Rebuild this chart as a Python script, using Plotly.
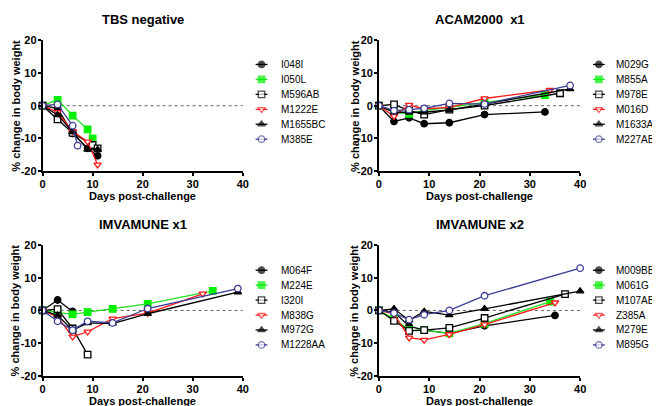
import plotly.graph_objects as go

# ---------------- data ----------------
panel_titles = ["TBS negative", "ACAM2000  x1", "IMVAMUNE x1", "IMVAMUNE x2"]
x_ticks = [0, 10, 20, 30, 40]
y_ticks = [-20, -10, 0, 10, 20]
y_tick_labels = ["-20", "-10", "0", "10", "20"]

# Panel 1: TBS negative
p1_names = ["I048I", "I050L", "M596AB", "M1222E", "M1655BC", "M385E"]
p1_days = [
    [0, 3, 6, 9, 11],
    [0, 3, 6, 9, 10],
    [0, 3, 6, 10, 11],
    [0, 3, 6, 9, 11],
    [0, 3, 6, 9, 11],
    [0, 3, 6, 7],
]
p1_vals = [
    [0, -0.8, -8.5, -13.0, -15.3],
    [0, 1.8, -3.0, -7.2, -10.0],
    [0, -4.2, -8.3, -12.0, -13.0],
    [0, -2.0, -7.8, -11.0, -18.0],
    [0, -2.8, -8.0, -13.4, -13.4],
    [0, 0.4, -6.1, -12.2],
]

# Panel 2: ACAM2000 x1
p2_names = ["M029G", "M855A", "M978E", "M016D", "M1633AB", "M227AB"]
p2_days = [
    [0, 3, 6, 9, 14, 21, 33],
    [0, 3, 6, 9, 14, 21, 33],
    [0, 3, 6, 9, 14, 21, 36],
    [0, 3, 6, 9, 14, 21, 34],
    [0, 3, 6, 9, 14, 21, 38],
    [0, 3, 6, 9, 14, 21, 38],
]
p2_vals = [
    [0, -4.8, -3.7, -5.5, -5.2, -2.7, -1.9],
    [0, -2.0, -2.5, -1.5, -0.5, 1.0, 3.2],
    [0, 0.4, -1.5, -2.7, -1.2, 0.0, 3.8],
    [0, -3.2, 0.2, -1.0, -0.5, 2.2, 4.8],
    [0, -2.0, -2.0, -2.0, -1.3, 0.5, 5.1],
    [0, -1.5, -1.2, -0.8, 0.7, 0.5, 6.2],
]

# Panel 3: IMVAMUNE x1
p3_names = ["M064F", "M224E", "I320I", "M838G", "M972G", "M1228AA"]
p3_days = [
    [0, 3, 6],
    [0, 3, 6, 9, 14, 21, 34],
    [0, 3, 6, 9],
    [0, 3, 6, 9, 14, 21, 32],
    [0, 3, 6, 9, 14, 21, 39],
    [0, 3, 6, 9, 14, 21, 39],
]
p3_vals = [
    [0, 3.2, -0.3],
    [0, -0.5, -1.2, -0.5, 0.5, 2.0, 6.0],
    [0, 0.4, -5.5, -13.5],
    [0, -2.0, -8.0, -6.5, -2.5, -0.8, 5.1],
    [0, -1.5, -6.0, -3.8, -4.0, -1.0, 5.6],
    [0, -3.3, -6.0, -3.3, -3.8, 0.6, 6.7],
]

# Panel 4: IMVAMUNE x2
p4_names = ["M009BB", "M061G", "M107AB", "Z385A", "M279E", "M895G"]
p4_days = [
    [0, 3, 6, 9, 14, 21, 35],
    [0, 3, 6, 9, 14, 21, 34],
    [0, 3, 6, 9, 14, 21, 37],
    [0, 3, 6, 9, 14, 21, 35],
    [0, 3, 6, 9, 14, 21, 40],
    [0, 3, 6, 9, 14, 21, 40],
]
p4_vals = [
    [0, -0.5, -4.8, -6.0, -7.0, -4.7, -1.5],
    [0, -2.5, -6.0, -6.0, -7.0, -4.0, 2.7],
    [0, -3.2, -6.2, -6.0, -5.3, -2.3, 5.0],
    [0, -1.0, -8.3, -9.0, -7.3, -4.3, 2.4],
    [0, 0.5, -3.0, -0.3, -1.4, 0.5, 5.9],
    [0, -0.8, -2.8, -1.3, 0.0, 4.5, 12.9],
]

# ---------------- styles ----------------
BLACK = "#000000"
GREEN = "#22e022"
RED = "#ff1a1a"
BLUE = "#3b3b96"
styles = [
    dict(line=BLACK, symbol="circle", fill=BLACK, mline=BLACK),
    dict(line=GREEN, symbol="square", fill="#00f000", mline="#00f000"),
    dict(line=BLACK, symbol="square", fill="white", mline=BLACK),
    dict(line=RED, symbol="triangle-down", fill="white", mline=RED),
    dict(line=BLACK, symbol="triangle-up", fill=BLACK, mline=BLACK),
    dict(line=BLUE, symbol="circle", fill="white", mline=BLUE),
]

W, H = 660, 406
FONT = "Liberation Sans, Arial, sans-serif"

# panel pixel boxes: (left, right, top, bottom)
boxes = [(32, 235, 27, 162), (373, 577, 27, 162), (32, 235, 238, 373), (373, 577, 238, 373)]
# legend: (sample line left, text left, first row y)
legend_geo = [(248, 272, 52), (590, 611, 52), (248, 272, 264), (590, 611, 264)]
ROW = 15.4
ytitle_x = [5, 348, 5, 348]

panels = [
    (p1_names, p1_days, p1_vals),
    (p2_names, p2_days, p2_vals),
    (p3_names, p3_days, p3_vals),
    (p4_names, p4_days, p4_vals),
]

fig = go.Figure()
annotations = []
shapes = []
layout = {}

axis_common = dict(
    showgrid=False, zeroline=False, showline=True, linecolor="black", linewidth=1.5,
    ticks="outside", ticklen=3, tickwidth=1.5, tickcolor="black", ticklabelstandoff=-1,
    tickfont=dict(family=FONT, size=11, color="black", weight="bold"),
)
bold = dict(family=FONT, size=11, color="black", weight="bold")

for i, (names, days, vals) in enumerate(panels):
    n = i + 1
    xa = "x" if n == 1 else f"x{n}"
    ya = "y" if n == 1 else f"y{n}"
    l, r, t, b = boxes[i]
    layout[f"xaxis{'' if n == 1 else n}"] = dict(
        domain=[l / W, r / W], anchor=ya, range=[0, 40], tickvals=x_ticks, **axis_common)
    layout[f"yaxis{'' if n == 1 else n}"] = dict(
        domain=[1 - b / H, 1 - t / H], anchor=xa, range=[-20, 20], tickvals=y_ticks,
        ticktext=y_tick_labels, **axis_common)
    # y title
    annotations.append(dict(
        text="% change in body weight", xref="paper", yref="paper",
        x=ytitle_x[i] / W, y=1 - (t + b) / 2 / H, textangle=-90, showarrow=False,
        xanchor="center", yanchor="middle", font=bold))
    # x title
    annotations.append(dict(
        text="Days post-challenge", xref="paper", yref="paper",
        x=(l + r) / 2 / W, y=1 - (b + 26) / H, showarrow=False,
        xanchor="center", yanchor="middle", font=bold))
    # panel title
    annotations.append(dict(
        text=panel_titles[i], xref="paper", yref="paper",
        x=(l + r) / 2 / W, y=1 - (t - 21) / H, showarrow=False,
        xanchor="center", yanchor="middle",
        font=dict(family=FONT, size=13, color="black", weight="bold")))
    # dotted zero line
    shapes.append(dict(type="line", xref=xa, yref=ya, x0=0, x1=40, y0=0, y1=0,
                       line=dict(color="#666666", width=1, dash="dot"), layer="below"))
    for j, name in enumerate(names):
        s = styles[j]
        fig.add_trace(go.Scatter(
            x=days[j], y=vals[j], name=name, mode="lines+markers",
            xaxis=xa, yaxis=ya, cliponaxis=False, showlegend=False,
            line=dict(color=s["line"], width=1.3),
            marker=dict(symbol=s["symbol"], size=6.5, color=s["fill"],
                        line=dict(color=s["mline"], width=1.3)),
        ))

    # legend (drawn on a hidden pixel-space axis)
    lx, tx, ly = legend_geo[i]
    for j, name in enumerate(names):
        s = styles[j]
        yy = ly + j * ROW
        fig.add_trace(go.Scatter(
            x=[lx, lx + 6, lx + 12], y=[yy, yy, yy], mode="lines+markers",
            xaxis="x5", yaxis="y5", showlegend=False, hoverinfo="skip", cliponaxis=False,
            line=dict(color=s["line"], width=1.3),
            marker=dict(symbol=s["symbol"], size=[0, 6.5, 0], color=s["fill"],
                        line=dict(color=s["mline"], width=[0, 1.3, 0])),
        ))
        annotations.append(dict(
            text=name, xref="paper", yref="paper", x=tx / W, y=1 - yy / H,
            xanchor="left", yanchor="middle", showarrow=False,
            font=dict(family=FONT, size=10, color="black")))

layout["xaxis5"] = dict(domain=[0, 1], range=[0, W], visible=False, anchor="y5")
layout["yaxis5"] = dict(domain=[0, 1], range=[H, 0], visible=False, anchor="x5")

fig.update_layout(
    width=W, height=H, margin=dict(l=0, r=0, t=0, b=0),
    paper_bgcolor="white", plot_bgcolor="rgba(0,0,0,0)",
    showlegend=False, annotations=annotations, shapes=shapes, **layout,
)

fig.write_html("out.html")
